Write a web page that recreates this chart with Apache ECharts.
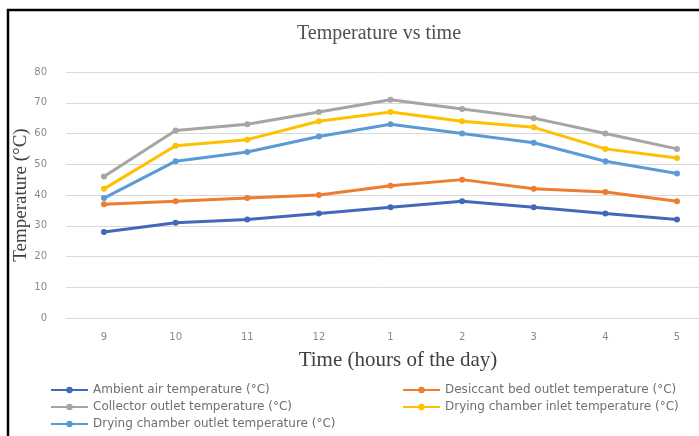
<!DOCTYPE html>
<html>
<head>
<meta charset="utf-8">
<script src="https://cdn.jsdelivr.net/npm/echarts@6/dist/echarts.min.js"></script>
<style>
html,body{margin:0;padding:0;background:#fff;}
#chart{width:699px;height:436px;}
</style>
</head>
<body>
<div id="chart"></div>
<script>
const hours = ['9','10','11','12','1','2','3','4','5'];
const yTicks = [0, 10, 20, 30, 40, 50, 60, 70, 80];
const ambient = [28, 31, 32, 34, 36, 38, 36, 34, 32];
const desiccant = [37, 38, 39, 40, 43, 45, 42, 41, 38];
const collector = [46, 61, 63, 67, 71, 68, 65, 60, 55];
const dryInlet = [42, 56, 58, 64, 67, 64, 62, 55, 52];
const dryOutlet = [39, 51, 54, 59, 63, 60, 57, 51, 47];
const seriesNames = [
  'Ambient air temperature (°C)',
  'Desiccant bed outlet temperature (°C)',
  'Collector outlet temperature (°C)',
  'Drying chamber inlet temperature (°C)',
  'Drying chamber outlet temperature (°C)'
];
const colors = ['#4169B8', '#ED7D31', '#A5A5A5', '#FFC000', '#5B9BD5'];
const dataSets = [ambient, desiccant, collector, dryInlet, dryOutlet];

const chart = echarts.init(document.getElementById('chart'), null, {renderer: 'canvas'});
const legendText = {fontFamily: 'DejaVu Sans', fontSize: 12, color: '#6f6f6f'};
const yMin = yTicks[0], yMax = yTicks[yTicks.length - 1], yStep = yTicks[1] - yTicks[0];
chart.setOption({
  animation: false,
  backgroundColor: '#fff',
  title: [
    {text: 'Temperature vs time', left: 374, top: 19, textAlign: 'center',
     textStyle: {fontFamily: 'Liberation Serif', fontSize: 20, fontWeight: 'normal', color: '#505050'}},
    {text: 'Time (hours of the day)', left: 393, top: 345, textAlign: 'center',
     textStyle: {fontFamily: 'Liberation Serif', fontSize: 21, fontWeight: 'normal', color: '#404040'}}
  ],
  graphic: [
    {type: 'rect', shape: {x: 8, y: 10, width: 800, height: 600},
     style: {fill: 'none', stroke: '#000', lineWidth: 2.5}, z: 100}
  ],
  legend: [
    {left: 50, top: 384, orient: 'vertical', padding: 0, itemGap: 5, itemWidth: 37, itemHeight: 8,
     data: [seriesNames[0], seriesNames[2], seriesNames[4]], textStyle: legendText},
    {left: 402, top: 384, orient: 'vertical', padding: 0, itemGap: 5, itemWidth: 37, itemHeight: 8,
     data: [seriesNames[1], seriesNames[3]], textStyle: legendText}
  ],
  grid: [
    {left: 66, top: 72, right: 0, height: 246, containLabel: false, outerBoundsMode: 'none'},
    {left: 104, top: 72, right: 22, height: 246, containLabel: false, outerBoundsMode: 'none'}
  ],
  xAxis: [
    {type: 'value', gridIndex: 0, show: false, min: 0, max: 1},
    {type: 'category', gridIndex: 1, data: hours, boundaryGap: false,
     axisLine: {show: false}, axisTick: {show: false}, splitLine: {show: false},
     axisLabel: {fontFamily: 'DejaVu Sans', fontSize: 10, color: '#8a8a8a', margin: 14}}
  ],
  yAxis: [
    {type: 'value', gridIndex: 0, min: yMin, max: yMax, interval: yStep,
     name: 'Temperature (°C)', nameLocation: 'middle', nameGap: 35, nameRotate: 90,
     nameMoveOverlap: false,
     nameTextStyle: {fontFamily: 'Liberation Serif', fontSize: 19, color: '#404040'},
     axisLine: {show: false}, axisTick: {show: false},
     axisLabel: {fontFamily: 'DejaVu Sans', fontSize: 10, color: '#8a8a8a', margin: 19},
     splitLine: {lineStyle: {color: '#d9d9d9'}}},
    {type: 'value', gridIndex: 1, min: yMin, max: yMax, interval: yStep, show: false,
     splitLine: {show: false}}
  ],
  series: dataSets.map((d, i) => ({
    name: seriesNames[i], type: 'line', data: d, xAxisIndex: 1, yAxisIndex: 1,
    symbol: 'circle', symbolSize: 6,
    lineStyle: {width: 3, color: colors[i]},
    itemStyle: {color: colors[i]}
  }))
});
</script>
</body>
</html>
